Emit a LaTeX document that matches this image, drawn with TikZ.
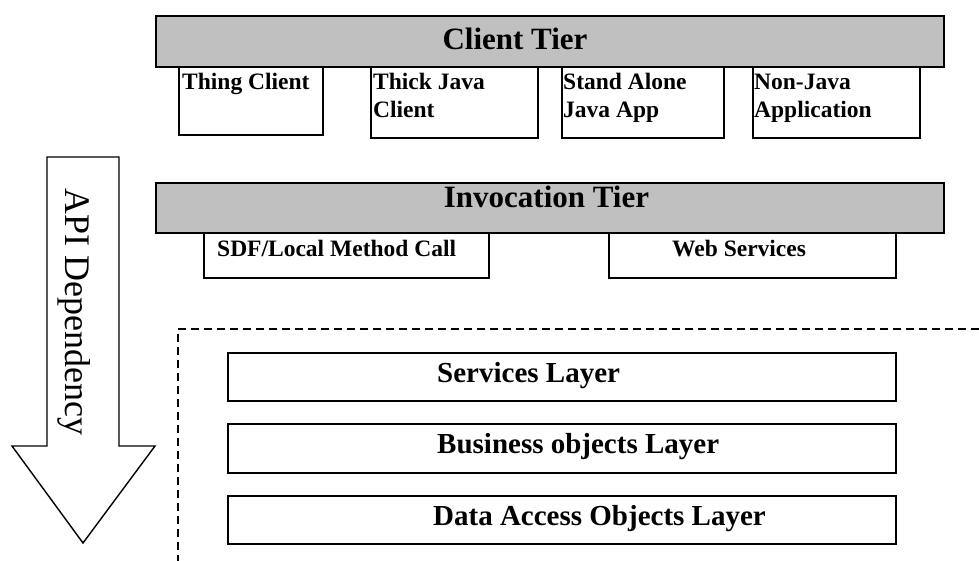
\documentclass[tikz,border=0pt]{standalone}
\usepackage{fontspec}
\setmainfont{Liberation Serif}
\definecolor{tiergray}{HTML}{C0C0C0}
\begin{document}
\begin{tikzpicture}[x=1pt,y=-1pt,
  tierbar/.style={draw, fill=tiergray, line width=1.8pt, inner sep=0pt, anchor=north west},
  boxc/.style={draw, fill=white, line width=1.6pt, inner sep=0pt, anchor=north west},
  tiertext/.style={font=\fontsize{31}{36}\selectfont\bfseries, inner sep=0pt, anchor=base},
  boxtext/.style={font=\fontsize{23.5}{28}\selectfont\bfseries, inner sep=0pt, anchor=base west},
  layertext/.style={font=\fontsize{29}{34}\selectfont\bfseries, inner sep=0pt, anchor=base west}]
\useasboundingbox (0,0) rectangle (979,561);

% dashed region
\coordinate (dtr) at (979,329);
\coordinate (dtl) at (178,329);
\coordinate (dbl) at (178,561);
\draw[line width=1.8pt, dash pattern=on 8pt off 5pt] (dtr) -- (dtl) -- (dbl);

% API dependency arrow
\draw[line width=1.4pt, fill=white] (47,157) -- (119,157) -- (119,446) -- (155,446)
  -- (83,543) -- (12,446) -- (47,446) -- cycle;
\node[font=\fontsize{36}{40}\selectfont, rotate=-90, inner sep=0pt, anchor=base] (api) at (65,312) {API Dependency};

% client tier
\node[tierbar, minimum width=788pt, minimum height=51pt] (client) at (155,15) {};
\node[tiertext] (clientlbl) at (515,50) {Client Tier};
\node[boxc, minimum width=144pt, minimum height=68pt] (thin) at (178,66) {};
\node[boxc, minimum width=167pt, minimum height=71pt] (thick) at (370,66) {};
\node[boxc, minimum width=162pt, minimum height=71pt] (stand) at (561,66) {};
\node[boxc, minimum width=167pt, minimum height=71pt] (nonjava) at (752,66) {};
\node[boxtext] (thinA) at (182,90) {Thing Client};
\node[boxtext] (thickA) at (373,90) {Thick Java};
\node[boxtext] (thickB) at (373,118) {Client};
\node[boxtext] (standA) at (563,90) {Stand Alone};
\node[boxtext] (standB) at (563,118) {Java App};
\node[boxtext] (nonA) at (754,90) {Non-Java};
\node[boxtext] (nonB) at (754,118) {Application};

% invocation tier
\node[tierbar, minimum width=788pt, minimum height=50pt] (invoc) at (155,182) {};
\node[tiertext] (invoclbl) at (546.5,208) {Invocation Tier};
\node[boxc, minimum width=285pt, minimum height=45pt] (sdf) at (203,232) {};
\node[boxc, minimum width=287pt, minimum height=45pt] (web) at (608,232) {};
\node[boxtext] (sdfA) at (217,257) {SDF/Local Method Call};
\node[boxtext] (webA) at (672,257) {Web Services};

% layers
\node[boxc, minimum width=668pt, minimum height=48pt] (serv) at (227,352) {};
\node[boxc, minimum width=668pt, minimum height=49pt] (bus) at (227,423) {};
\node[boxc, minimum width=668pt, minimum height=48pt] (dao) at (227,495) {};
\node[layertext] (servA) at (437,382) {Services Layer};
\node[layertext] (busA) at (437,453) {Business objects Layer};
\node[layertext] (daoA) at (433,525) {Data Access Objects Layer};
\end{tikzpicture}
\end{document}
